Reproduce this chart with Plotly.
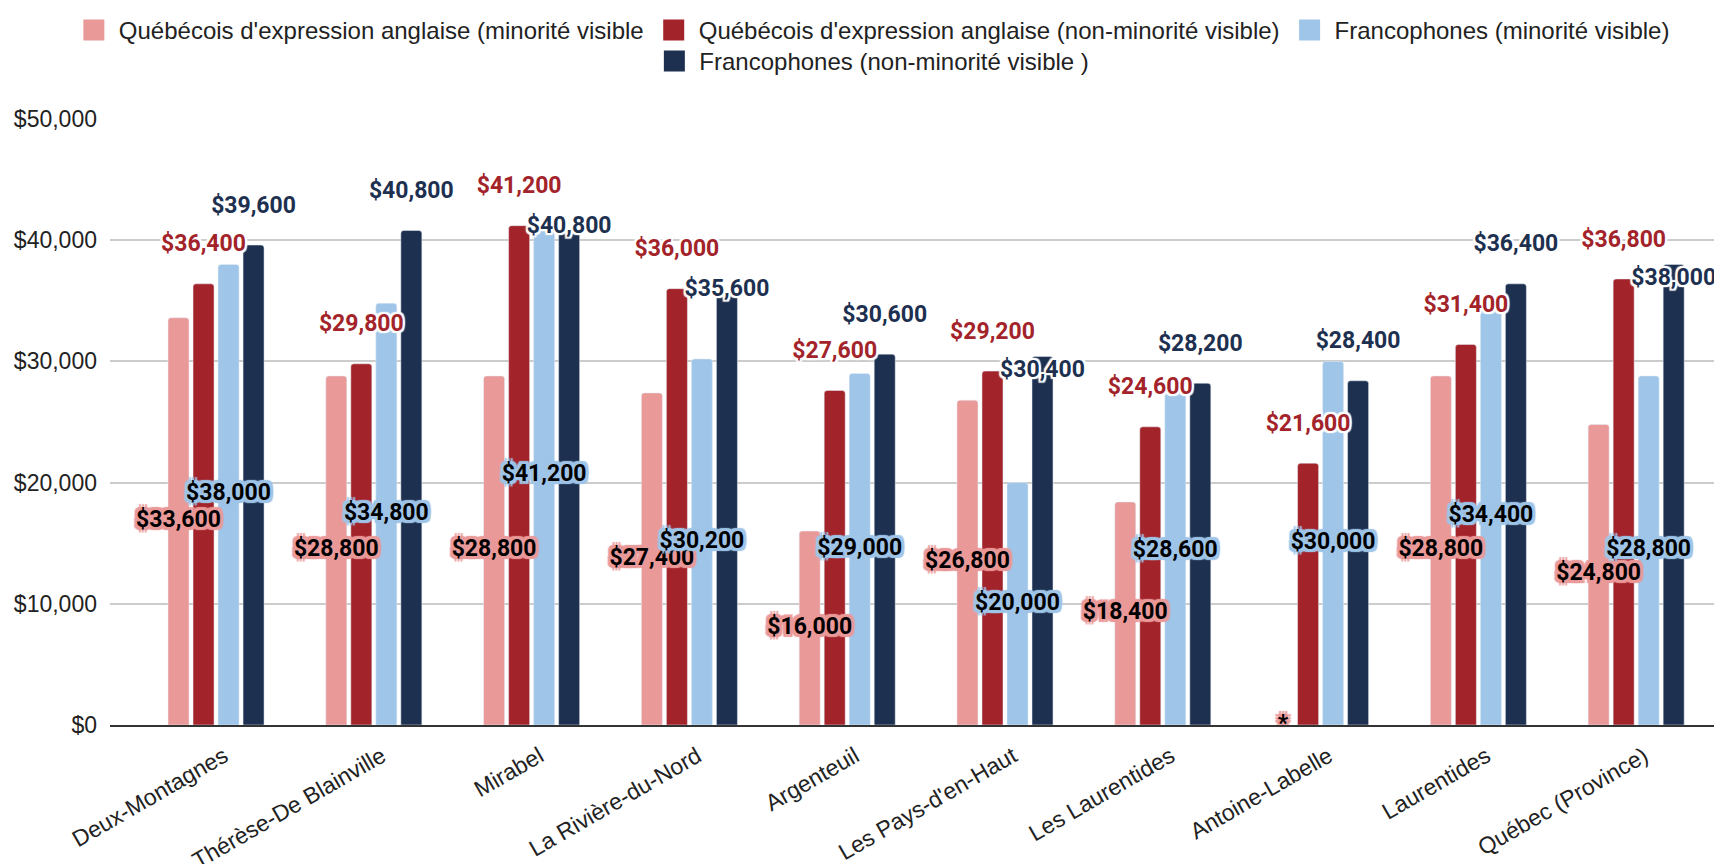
import plotly.graph_objects as go

categories = [
    "Deux-Montagnes", "Thérèse-De Blainville", "Mirabel", "La Rivière-du-Nord",
    "Argenteuil", "Les Pays-d'en-Haut", "Les Laurentides", "Antoine-Labelle",
    "Laurentides", "Québec (Province)",
]
anglo_vm = [33600, 28800, 28800, 27400, 16000, 26800, 18400, None, 28800, 24800]
anglo_non_vm = [36400, 29800, 41200, 36000, 27600, 29200, 24600, 21600, 31400, 36800]
franco_vm = [38000, 34800, 41200, 30200, 29000, 20000, 28600, 30000, 34400, 28800]
franco_non_vm = [39600, 40800, 40800, 35600, 30600, 30400, 28200, 28400, 36400, 38000]

names = [
    "Québécois d'expression anglaise (minorité visible",
    "Québécois d'expression anglaise (non-minorité visible)",
    "Francophones (minorité visible)",
    "Francophones (non-minorité visible )",
]
colors = ["#ea9999", "#a3232a", "#9fc5e8", "#1e3050"]
series = [anglo_vm, anglo_non_vm, franco_vm, franco_non_vm]

BARGAP = 0.366
SLOT = (1 - BARGAP) / 4
LIFT = 3150  # label lift above bar top, in dollars (~38px)
x = list(range(len(categories)))


def money(v):
    return "*" if v is None else f"${v:,.0f}"


def halo(c, w=2):
    dirs = [(w, 0), (-w, 0), (0, w), (0, -w), (w, w), (-w, -w), (w, -w), (-w, w)]
    return ", ".join(f"{dx}px {dy}px 1px {c}" for dx, dy in dirs)


fig = go.Figure()

for name, vals, col in zip(names, series, colors):
    fig.add_trace(go.Bar(x=x, y=vals, name=name, marker_color=col,
                         showlegend=False, hoverinfo="skip"))

# legend swatches
for i, (name, col) in enumerate(zip(names, colors)):
    fig.add_trace(go.Scatter(
        x=[None], y=[None], mode="markers", name=name,
        marker=dict(symbol="square", size=16, color=col, line=dict(color=col, width=5)),
        legend="legend2" if i == 3 else "legend",
    ))

label_font = dict(family="Roboto", size=23, weight="bold")

# labels above the bars (non-minorité visible); navy ones dodge the red ones
for k in (1, 3):
    vals = series[k]
    ys = []
    for i, v in enumerate(vals):
        y = v + LIFT
        if k == 3:
            diff = v - anglo_non_vm[i]
            if abs(diff) < 1000:
                y = v + 250
            elif 0 < diff < 2000:
                y = v - 1250
        ys.append(y)
    fig.add_trace(go.Scatter(
        x=[i + (k - 1.5) * SLOT for i in x], y=ys, mode="text",
        text=[money(v) for v in vals], textposition="middle center",
        textfont=dict(color=colors[k], shadow=halo("#ffffff"), **label_font),
        showlegend=False, hoverinfo="skip", cliponaxis=False,
    ))

# labels in the middle of the bars (minorité visible)
for k in (0, 2):
    vals = series[k]
    fig.add_trace(go.Scatter(
        x=[i + (k - 1.5) * SLOT for i in x],
        y=[0 if v is None else v / 2 for v in vals], mode="text",
        text=[money(v) for v in vals], textposition="middle center",
        textfont=dict(color="#000000", shadow=halo(colors[k], 3), **label_font),
        showlegend=False, hoverinfo="skip", cliponaxis=False,
    ))

legend_style = dict(
    orientation="h", xref="container", yref="container", x=0.504, xanchor="center",
    yanchor="top", font=dict(family="Arial", size=24, color="#222222"),
    bgcolor="rgba(0,0,0,0)", itemwidth=40,
)

fig.update_layout(
    width=1714, height=856,
    margin=dict(l=102, r=0, t=111, b=139),
    plot_bgcolor="white", paper_bgcolor="white",
    barmode="group", bargap=BARGAP, bargroupgap=0.16, barcornerradius=3,
    font=dict(family="Arial", size=24, color="#222222"),
    legend=dict(y=1.0, **legend_style),
    legend2=dict(y=0.964, **legend_style),
    xaxis=dict(
        range=[-0.672, 9.544], tickvals=x, ticktext=categories, tickangle=-30,
        showgrid=False, zeroline=False, showline=True, linecolor="#333333", linewidth=2,
        tickfont=dict(family="Arial", size=23, color="#222222"),
        ticklabelstandoff=7, ticklabelshift=8, automargin=False,
    ),
    yaxis=dict(
        range=[0, 50000], dtick=10000, tickprefix="$", tickformat=",",
        gridcolor="#cccccc", gridwidth=1.5, zeroline=False, ticklabelstandoff=12,
        tickfont=dict(family="Arial", size=23, color="#222222"), automargin=False,
    ),
)

fig.write_html("out.html")
